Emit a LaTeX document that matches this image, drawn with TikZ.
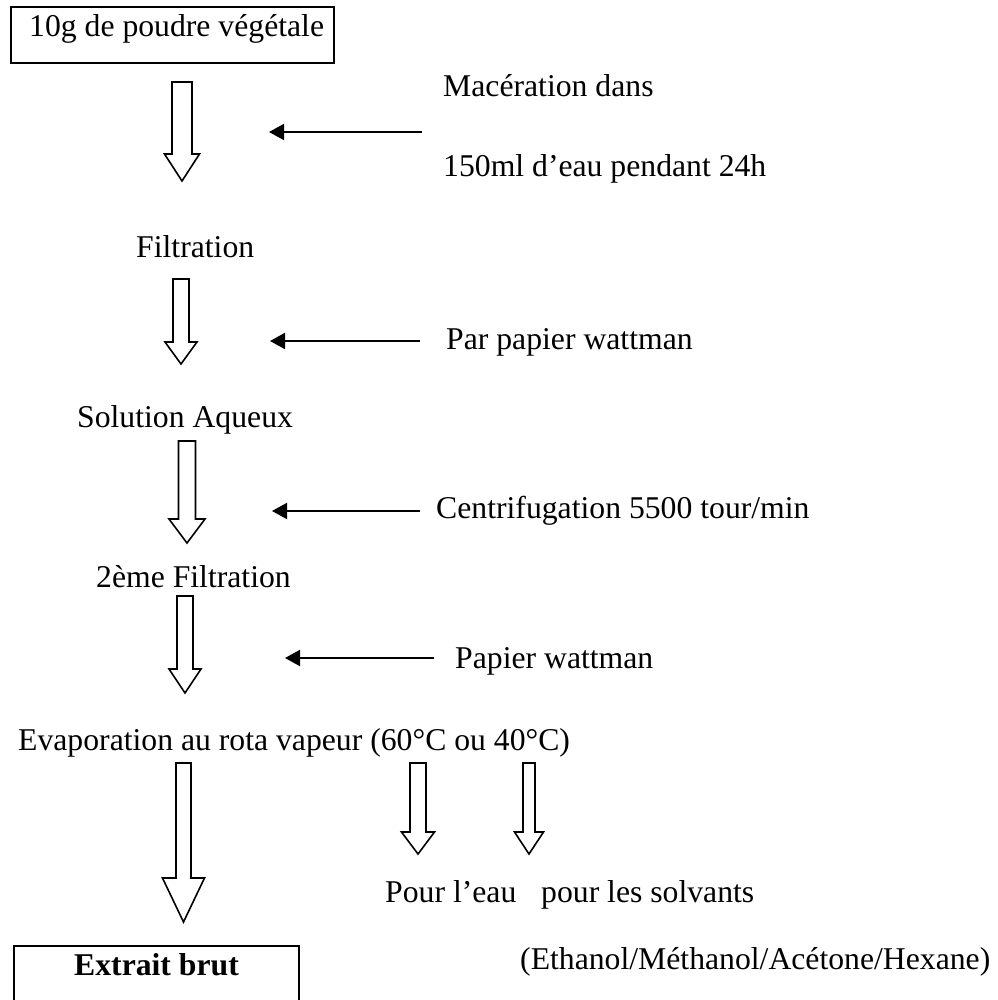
\documentclass[tikz,border=0pt]{standalone}
\usepackage{fontspec}
\setmainfont{Liberation Serif}
\usetikzlibrary{arrows.meta}
\newcommand{\barrow}[7]{% name, cx, ytop, yhead, ytip, half shaft, half head
\draw[blockarrow] (#2-#6,#3) -- (#2+#6,#3) -- (#2+#6,#4) -- (#2+#7,#4) -- (#2,#5) coordinate (#1) -- (#2-#7,#4) -- (#2-#6,#4) -- cycle;}
\begin{document}
\begin{tikzpicture}[x=1pt,y=-1pt,
  txt/.style={anchor=base west,inner sep=0pt,font=\fontsize{31.7}{38}\selectfont},
  blockarrow/.style={draw,line width=1.6pt,line join=miter,fill=white},
  thinarrow/.style={line width=2pt,-{Triangle[length=15pt,width=16pt]}}]
\useasboundingbox (0,0) rectangle (997,1000);
% boxes
\draw[line width=2pt] (11,7) rectangle (334,63);
\node[txt] (start) at (29,37) {10g de poudre végétale};
\draw[line width=2pt] (14,1004) -- (14,946) -- (299,946) -- (299,1004);
\node[txt,font=\fontsize{31.7}{38}\selectfont\bfseries] (end) at (74,975) {Extrait brut};
% step texts
\node[txt] (filt) at (136,258) {Filtration};
\node[txt] (sol) at (77,427) {Solution Aqueux};
\node[txt] (filt2) at (96,587) {2ème Filtration};
\node[txt] (evap) at (18,750) {Evaporation au rota vapeur (60°C ou 40°C)};
\node[txt] (eau) at (385,902) {Pour l’eau};
\node[txt] (solv) at (541,902) {pour les solvants};
\node[txt] (eth) at (520,969) {(Ethanol/Méthanol/Acétone/Hexane)};
% side texts
\node[txt] (mac1) at (443,97) {Macération dans};
\node[txt] (mac2) at (443,177) {150ml d’eau pendant 24h};
\node[txt] (pap1) at (446,349) {Par papier wattman};
\node[txt] (cent) at (436,518) {Centrifugation 5500 tour/min};
\node[txt] (pap2) at (455,668) {Papier wattman};
% block arrows
\barrow{a1}{182}{82}{154}{181}{10}{17.5}
\barrow{a2}{181}{279}{342}{364}{8}{16}
\barrow{a3}{187}{441}{519}{543}{8.5}{18}
\barrow{a4}{185}{596}{669}{693}{8}{16}
\barrow{a5}{183.5}{763}{878}{922}{7.5}{21}
\barrow{aA}{418}{763}{832}{854}{8}{16.5}
\barrow{aB}{529}{763}{832}{854}{6}{14.5}
% thin arrows
\coordinate (s1) at (422,132); \coordinate (e1) at (269,132);
\coordinate (s2) at (420,341); \coordinate (e2) at (270,341);
\coordinate (s3) at (420,511); \coordinate (e3) at (272,511);
\coordinate (s4) at (434,658); \coordinate (e4) at (285,658);
\draw[thinarrow] (s1) -- (e1);
\draw[thinarrow] (s2) -- (e2);
\draw[thinarrow] (s3) -- (e3);
\draw[thinarrow] (s4) -- (e4);
\end{tikzpicture}
\end{document}
